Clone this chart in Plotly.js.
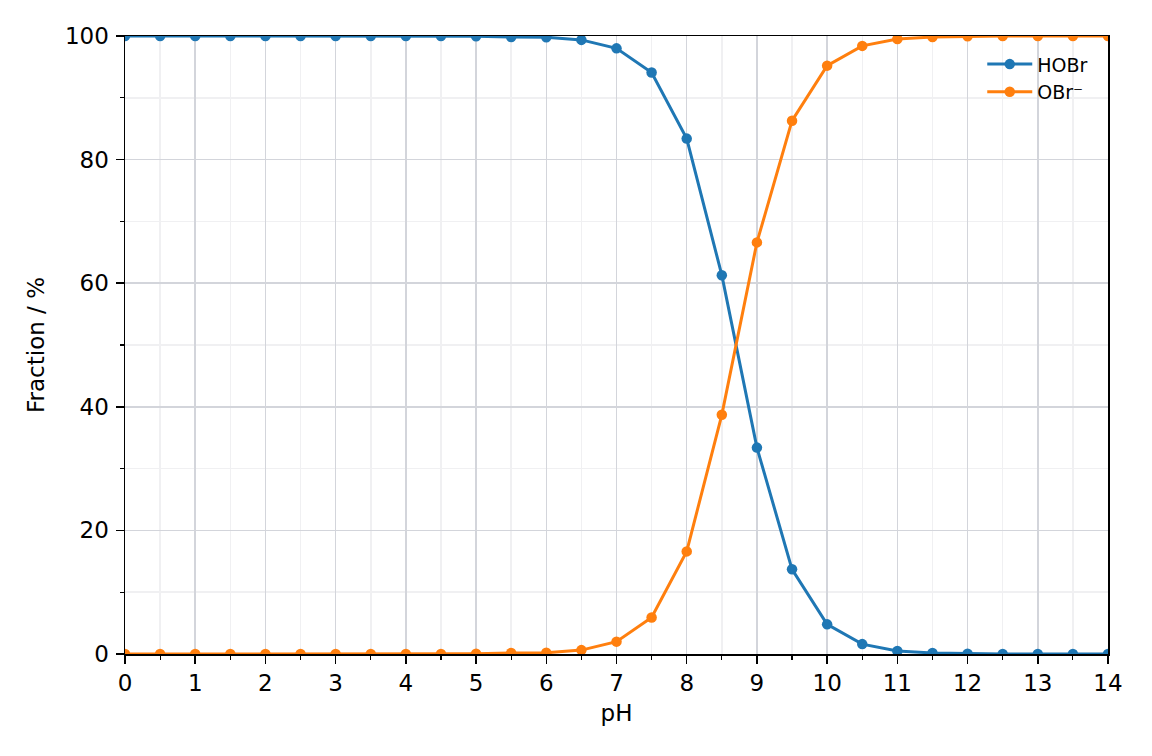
<!DOCTYPE html>
<html>
<head>
<meta charset="utf-8">
<script src="https://cdn.plot.ly/plotly-3.0.1.min.js"></script>
<style>
  html, body { margin: 0; padding: 0; background: #fff; }
  #chart { width: 1152px; height: 756px; }
</style>
</head>
<body>
<div id="chart"></div>
<script>
const pH = [0, 0.5, 1, 1.5, 2, 2.5, 3, 3.5, 4, 4.5, 5, 5.5, 6, 6.5, 7,
  7.5, 8, 8.5, 9, 9.5, 10, 10.5, 11, 11.5, 12, 12.5, 13, 13.5, 14];

// fraction of HOBr
const hobr = [100, 100, 100, 100, 100, 100, 100, 99.99, 99.99, 99.98, 99.95, 99.84, 99.8, 99.37, 98.0,
  94.1, 83.4, 61.3, 33.4, 13.7, 4.8, 1.6, 0.5, 0.16, 0.05, 0.02, 0.005, 0.002, 0.0005];

// fraction of OBr-
const obr = [0, 0, 0, 0, 0, 0, 0, 0.01, 0.01, 0.02, 0.05, 0.16, 0.2, 0.63, 2.0,
  5.9, 16.6, 38.7, 66.6, 86.3, 95.2, 98.4, 99.5, 99.84, 99.95, 99.98, 99.995, 99.998, 99.9995];

const xTicks = [0, 1, 2, 3, 4, 5, 6, 7, 8, 9, 10, 11, 12, 13, 14];
const yTicks = [0, 20, 40, 60, 80, 100];

const hobrTrace = {
  x: pH,
  y: hobr,
  mode: "lines+markers",
  name: "HOBr",
  line: { color: "#1f77b4", width: 3 },
  marker: { color: "#1f77b4", size: 10.5 },
  type: "scatter",
};

const obrTrace = {
  x: pH,
  y: obr,
  mode: "lines+markers",
  name: "OBr⁻",
  line: { color: "#ff7f0e", width: 3 },
  marker: { color: "#ff7f0e", size: 10.5 },
  type: "scatter",
};

const axisFont = { family: "DejaVu Sans", size: 23, color: "#000" };

const chartLayout = {
  width: 1152,
  height: 756,
  margin: { l: 125, r: 44, t: 36, b: 102 },
  paper_bgcolor: "#fff",
  plot_bgcolor: "#fff",
  font: axisFont,
  showlegend: true,
  legend: {
    x: 0.985,
    y: 0.985,
    xanchor: "right",
    yanchor: "top",
    bgcolor: "rgba(255,255,255,0)",
    font: { family: "DejaVu Sans", size: 19, color: "#000" },
    itemwidth: 45,
    tracegroupgap: 4,
  },
  xaxis: {
    range: [0, 14],
    tickvals: xTicks,
    ticktext: xTicks.map(String),
    ticks: "outside",
    ticklen: 8,
    tickwidth: 1.5,
    tickcolor: "#000",
    tickfont: axisFont,
    showline: true,
    linecolor: "#000",
    linewidth: 1.5,
    mirror: true,
    showgrid: true,
    gridcolor: "#d3d5db",
    gridwidth: 1.5,
    zeroline: false,
    title: { text: "pH", font: axisFont, standoff: 10 },
    minor: {
      dtick: 0.5,
      ticks: "outside",
      ticklen: 4,
      tickwidth: 1.2,
      tickcolor: "#000",
      showgrid: true,
      gridcolor: "#f0f0f2",
      gridwidth: 1.5,
    },
  },
  yaxis: {
    range: [0, 100],
    tickvals: yTicks,
    ticktext: yTicks.map(String),
    ticks: "outside",
    ticklen: 8,
    tickwidth: 1.5,
    tickcolor: "#000",
    tickfont: axisFont,
    ticklabelstandoff: 2,
    showline: true,
    linecolor: "#000",
    linewidth: 1.5,
    mirror: true,
    showgrid: true,
    gridcolor: "#d3d5db",
    gridwidth: 1.5,
    zeroline: false,
    title: { text: "Fraction / %", font: axisFont, standoff: 14 },
    minor: {
      dtick: 10,
      ticks: "outside",
      ticklen: 4,
      tickwidth: 1.2,
      tickcolor: "#000",
      showgrid: true,
      gridcolor: "#f0f0f2",
      gridwidth: 1.5,
    },
  },
};

const chartConfig = { displayModeBar: false, staticPlot: true };

Plotly.newPlot("chart", [hobrTrace, obrTrace], chartLayout, chartConfig);
</script>
</body>
</html>
